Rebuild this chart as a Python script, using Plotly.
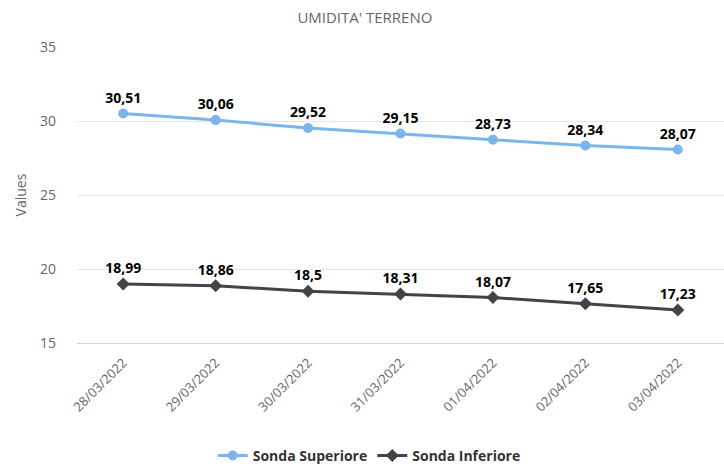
import plotly.graph_objects as go

categories = ["28/03/2022", "29/03/2022", "30/03/2022", "31/03/2022",
              "01/04/2022", "02/04/2022", "03/04/2022"]
sonda_superiore = [30.51, 30.06, 29.52, 29.15, 28.73, 28.34, 28.07]
sonda_inferiore = [18.99, 18.86, 18.5, 18.31, 18.07, 17.65, 17.23]
y_ticks = [15, 20, 25, 30, 35]

FONT = "Open Sans, DejaVu Sans, sans-serif"


def fmt(v):
    s = ("%.2f" % v).rstrip("0").rstrip(".")
    return s.replace(".", ",")


outline = "1px 1px 0 white, -1px -1px 0 white, 1px -1px 0 white, -1px 1px 0 white"

fig = go.Figure()
fig.add_trace(go.Scatter(
    x=categories, y=sonda_superiore, name="Sonda Superiore",
    mode="lines+markers+text",
    line=dict(color="#7cb5ec", width=3),
    marker=dict(symbol="circle", size=10, color="#7cb5ec"),
    text=[fmt(v) for v in sonda_superiore], textposition="top center",
    textfont=dict(family=FONT, size=14, color="#000000", weight="bold", shadow=outline),
))
fig.add_trace(go.Scatter(
    x=categories, y=sonda_inferiore, name="Sonda Inferiore",
    mode="lines+markers+text",
    line=dict(color="#434348", width=3),
    marker=dict(symbol="diamond", size=10, color="#434348"),
    text=[fmt(v) for v in sonda_inferiore], textposition="top center",
    textfont=dict(family=FONT, size=14, color="#000000", weight="bold", shadow=outline),
))

fig.update_layout(
    width=724, height=473,
    margin=dict(l=77, r=0, t=47, b=130, autoexpand=False),
    paper_bgcolor="white", plot_bgcolor="white",
    font=dict(family=FONT, color="#666666", size=12),
    title=dict(text="UMIDITA' TERRENO", x=0.504, xanchor="center", xref="container",
               y=0.962, yanchor="middle", yref="container",
               font=dict(family=FONT, size=15, color="#666666")),
    showlegend=True,
    legend=dict(orientation="h", xref="container", yref="container",
                x=0.51, xanchor="center", y=0.036, yanchor="middle",
                font=dict(family=FONT, size=14, color="#333333", weight="bold"),
                itemwidth=30),
    xaxis=dict(type="category", tickangle=-45, showgrid=False,
               showline=True, linecolor="#ccd6eb", linewidth=1,
               ticks="", tickfont=dict(size=13, color="#666666"),
               ticklabelstandoff=6,
               range=[-0.5, 6.5], automargin=False),
    yaxis=dict(range=[15, 35], tickvals=y_ticks, showgrid=True,
               gridcolor="#e6e6e6", zeroline=False, showline=False,
               tickfont=dict(size=14, color="#666666"), ticklabelstandoff=20,
               automargin=False,
               title=dict(text="Values", font=dict(size=14, color="#666666"), standoff=10)),
)

fig.write_html("out.html", config={"displayModeBar": False},
               post_script="document.body.style.margin='0';document.body.style.overflow='hidden';")
